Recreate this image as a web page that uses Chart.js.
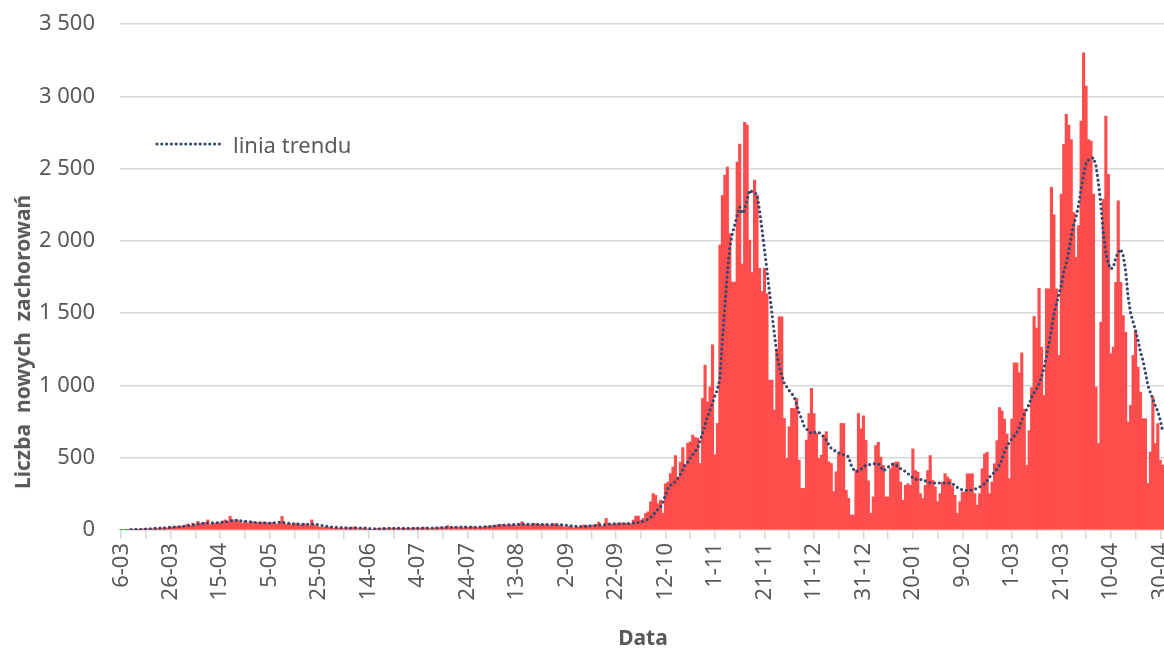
<!DOCTYPE html>
<html lang="pl">
<head>
<meta charset="utf-8">
<title>Liczba nowych zachorowań</title>
<script src="https://cdn.jsdelivr.net/npm/chart.js@4.4.1/dist/chart.umd.min.js"></script>
<style>
  html, body { margin: 0; padding: 0; background: #fff; }
  #wrap { position: relative; width: 1164px; height: 648px; font-family: "Noto Sans", sans-serif; color: #595959; }
  #chart { position: absolute; left: 0; top: 0; }
  #yTitle { position: absolute; left: 22px; top: 342px; transform: translate(-50%, -50%) rotate(-90deg);
            font-weight: bold; font-size: 21px; white-space: pre; }
  #xTitle { position: absolute; left: 643px; top: 637px; transform: translate(-50%, -50%);
            font-weight: bold; font-size: 21px; }
  #legend { position: absolute; left: 155px; top: 129px; display: flex; align-items: center; font-size: 22px; }
  #legend svg { margin-right: 8px; }
</style>
</head>
<body>
<div id="wrap">
  <canvas id="chart" width="1164" height="648"></canvas>
  <div id="yTitle">Liczba  nowych  zachorowań</div>
  <div id="xTitle">Data</div>
  <div id="legend">
    <svg width="70" height="8"><line x1="2" y1="4" x2="68" y2="4" stroke="#34476E" stroke-width="3.2" stroke-linecap="round" stroke-dasharray="0 4.8"/></svg>
    <span>linia trendu</span>
  </div>
</div>
<script>
// daily new cases, one array per month (first day: 6-03-2020)
const casesMar2020 = [2,0,1,3,2,4,5,3,6,8,7,9,10,8,12,10,13,15,12,16,22,18,25,20,28,24];
const casesApr2020 = [35,42,30,48,38,60,45,40,52,70,38,50,45,55,48,62,70,58,95,72,60,70,55,48,62,50,45,58,40,52];
const casesMay2020 = [48,55,42,50,38,52,45,40,60,95,42,38,45,35,40,48,32,38,44,36,30,70,35,28,22,18,20,15,18,22,12];
const casesJun2020 = [15,12,18,10,14,16,12,20,15,10,14,12,8,3,0,0,10,12,8,15,12,10,14,9,12,15,11,8,13,10];
const casesJul2020 = [12,10,15,9,14,11,16,12,10,13,15,12,18,14,20,30,15,18,22,16,20,14,25,18,15,22,20,16,24,18,22];
const casesAug2020 = [25,20,30,28,35,32,38,30,36,40,33,38,30,42,57,35,40,32,38,45,36,40,34,38,42,30,36,44,38,32,35];
const casesSep2020 = [22,18,25,20,15,24,18,28,35,30,32,23,35,38,55,27,28,80,46,40,38,45,42,50,36,48,40,44,69,96];
const casesOct2020 = [96,69,80,115,126,195,252,240,183,206,115,320,332,390,435,515,367,470,570,450,600,610,657,640,635,460,910,1140,887,990,1280];
const casesNov2020 = [520,737,1970,2315,2455,2510,2050,1715,1715,2545,2670,1840,2820,2800,2005,1780,2420,2315,1810,1650,1810,1635,1037,1037,830,1250,1475,1475,772,495];
const casesDec2020 = [715,841,841,910,484,288,288,622,806,980,806,668,495,518,657,680,472,460,265,403,530,737,737,276,219,104,104,415,806,700,790];
const casesJan2021 = [620,340,115,229,584,607,504,447,229,229,424,458,470,470,332,206,309,320,309,561,412,400,252,218,309,412,515,343,298,195,252];
const casesFeb2021 = [332,390,367,350,300,240,115,195,263,263,389,389,389,252,172,252,424,527,538,252,332,458,618,847,824,767,664,355];
const casesMar2021 = [767,1156,1156,1088,1225,836,447,687,985,1477,1397,1672,1265,930,1668,1668,2370,2180,1668,1208,2323,2668,2875,2800,2700,2196,1886,2105,2829,3300,3070];
const casesApr2021 = [2700,2690,2323,989,598,1437,2288,2863,2460,1219,1265,1713,2277,1713,1483,1368,747,862,1208,1380,1127,954,770,770,322,540,920,598,736,483];
const casesMay2021 = [450];

// trend line (moving average)
const trendMar2020 = [null,null,null,null,2,3,4,4,5,6,7,8,9,10,11,12,13,13,15,17,18,20,21,22,23,25];
const trendApr2020 = [28,30,32,35,38,42,45,46,47,48,48,49,50,50,52,54,56,58,62,65,66,67,65,62,60,58,56,54,52,51];
const trendMay2020 = [50,50,49,48,47,47,50,52,54,52,50,48,46,44,42,40,40,39,38,38,40,41,40,38,35,32,28,25,22,20,19];
const trendJun2020 = [18,17,16,15,15,14,14,15,15,14,14,13,12,10,9,8,7,7,8,10,11,12,12,12,12,12,12,11,11,12];
const trendJul2020 = [12,12,12,12,13,13,13,13,14,14,14,15,16,17,18,19,19,19,19,19,19,20,20,20,20,19,19,20,20,21,22];
const trendAug2020 = [22,24,26,28,30,32,33,34,35,35,36,37,38,39,40,40,39,38,38,39,39,38,38,37,37,37,37,37,37,36,36];
const trendSep2020 = [34,32,30,28,26,25,24,24,25,26,28,29,30,32,34,36,36,38,40,42,42,42,42,43,43,44,44,44,48,52];
const trendOct2020 = [52,55,60,66,75,90,105,125,145,160,195,240,290,310,320,335,360,385,420,455,470,500,520,545,565,620,670,730,785,830,880];
const trendNov2020 = [930,970,1050,1315,1550,1775,1960,2050,2110,2180,2235,2190,2210,2290,2350,2340,2335,2320,2210,2080,1940,1800,1650,1500,1360,1220,1130,1070,1014,990];
const trendDec2020 = [965,945,920,870,810,770,720,700,680,668,672,680,675,660,645,622,590,565,555,541,535,528,520,514,507,450,420,403,410,420,440];
const trendJan2021 = [445,450,455,458,460,458,440,410,420,435,448,458,450,440,425,415,405,390,375,362,352,346,348,350,340,332,328,326,325,325,325];
const trendFeb2021 = [325,325,325,325,320,308,295,285,278,275,274,275,277,282,290,298,308,320,340,366,385,400,425,447,490,540,580,605];
const trendMar2021 = [630,652,675,705,760,800,835,870,920,950,975,1010,1060,1120,1200,1290,1380,1495,1560,1633,1690,1794,1840,1930,2030,2116,2170,2250,2360,2461,2540];
const trendApr2021 = [2560,2565,2576,2520,2400,2250,2050,1920,1840,1805,1817,1880,1920,1943,1900,1794,1610,1500,1440,1380,1311,1230,1173,1090,1000,950,908,860,820,760];
const trendMay2021 = [680];

const cases = [].concat(casesMar2020, casesApr2020, casesMay2020, casesJun2020, casesJul2020, casesAug2020,
  casesSep2020, casesOct2020, casesNov2020, casesDec2020, casesJan2021, casesFeb2021, casesMar2021,
  casesApr2021, casesMay2021);
const trend = [].concat(trendMar2020, trendApr2020, trendMay2020, trendJun2020, trendJul2020, trendAug2020,
  trendSep2020, trendOct2020, trendNov2020, trendDec2020, trendJan2021, trendFeb2021, trendMar2021,
  trendApr2021, trendMay2021);

// categories: one per day, written as d-mm
const days = [];
const start = new Date(2020, 2, 6);
for (let i = 0; i < cases.length; i++) {
  const d = new Date(start.getFullYear(), start.getMonth(), start.getDate() + i);
  days.push(d.getDate() + '-' + String(d.getMonth() + 1).padStart(2, '0'));
}

const TEXT = '#595959';
const GRID = '#D9D9D9';
Chart.defaults.font.family = "'Noto Sans', sans-serif";
Chart.defaults.color = TEXT;

// 3500 -> "3 500"
function fmt(v) {
  return String(v).replace(/\B(?=(\d{3})+(?!\d))/g, ' ');
}

new Chart(document.getElementById('chart'), {
  data: {
    labels: days,
    datasets: [
      {
        type: 'line', label: 'linia trendu', data: trend, order: 0,
        borderColor: '#34476E', borderWidth: 3.2, borderDash: [0, 4.8], borderCapStyle: 'round',
        pointRadius: 0, tension: 0, fill: false
      },
      {
        type: 'bar', label: 'Liczba nowych zachorowań', data: cases, order: 1,
        backgroundColor: '#FF4D4D', barPercentage: 1, categoryPercentage: 1
      }
    ]
  },
  options: {
    responsive: false,
    animation: false,
    layout: { padding: { top: 24, right: 0, bottom: 0, left: 0 } },
    plugins: { legend: { display: false }, tooltip: { enabled: false } },
    scales: {
      x: {
        ticks: {
          autoSkip: false, minRotation: 90, maxRotation: 90, padding: 4,
          font: { size: 22 }, color: TEXT,
          callback: (v, i) => (i % 20 === 0 ? days[i] : '')
        },
        grid: {
          drawOnChartArea: false, offset: false, tickLength: 9, lineWidth: 1.5,
          color: ctx => (ctx.index % 10 === 0 ? GRID : 'rgba(0,0,0,0)')
        },
        border: { display: true, color: GRID, width: 1.5 },
        afterFit: s => { s.height = 118; s.paddingLeft = 0; s.paddingRight = 0; }
      },
      y: {
        min: 0, max: 3500,
        ticks: { stepSize: 500, padding: 25, font: { size: 22 }, color: TEXT, callback: v => fmt(v) },
        grid: { color: GRID, lineWidth: 1.5, drawTicks: false },
        border: { display: false },
        afterFit: s => { s.width = 120; s.paddingTop = 0; s.paddingBottom = 0; }
      }
    }
  }
});
</script>
</body>
</html>
